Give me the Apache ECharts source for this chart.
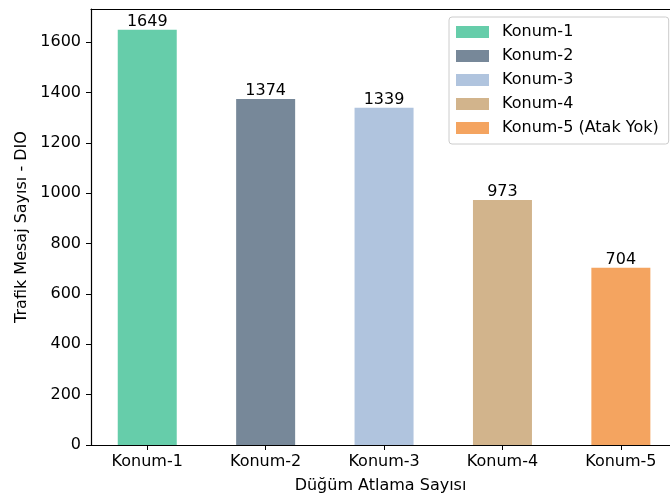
<!DOCTYPE html>
<html><head><meta charset="utf-8">
<script src="https://cdn.jsdelivr.net/npm/echarts@6/dist/echarts.min.js"></script>
<style>html,body{margin:0;padding:0;background:#fff}#c{width:670px;height:500px}</style>
</head><body><div id="c"></div>
<script>
const categories = ['Konum-1','Konum-2','Konum-3','Konum-4','Konum-5'];
const seriesNames = ['Konum-1','Konum-2','Konum-3','Konum-4','Konum-5 (Atak Yok)'];
const values = [1649, 1374, 1339, 973, 704];
const colors = ['#66cdaa','#778899','#b0c4de','#d2b48c','#f4a460'];
const yTicks = [0,200,400,600,800,1000,1200,1400,1600];

const FONT = 'DejaVu Sans';
const FS = 16;
const chart = echarts.init(document.getElementById('c'), null, {renderer:'canvas'});
const series = values.map((v,i)=>({
  name: seriesNames[i], type:'bar', data:[[i,v]], barWidth: 59, barGap:'-100%',
  itemStyle:{color:colors[i]},
  label:{show:true, position:'top', distance:0, color:'#000', fontFamily:FONT, fontSize:FS,
    formatter: p=>String(p.value[1])},
  emphasis:{disabled:true}
}));
chart.setOption({
  animation:false,
  grid:{left:91, right:0, top:9, bottom:55, show:false, containLabel:false},
  xAxis:[{type:'value', min:-0.475, max:4.415, splitLine:{show:false},
    axisLine:{show:true, onZero:false, lineStyle:{color:'#000', width:1.2}},
    axisTick:{show:true, length:5, customValues:[0,1,2,3,4], lineStyle:{color:'#000'}},
    axisLabel:{customValues:[0,1,2,3,4], margin:9, color:'#000', fontFamily:FONT, fontSize:FS,
      formatter:v=>categories[Math.round(v)]},
    name:'Düğüm Atlama Sayısı', nameLocation:'middle', nameGap:33,
    nameTextStyle:{color:'#000', fontFamily:FONT, fontSize:FS}},
   {type:'value', position:'top', min:-0.475, max:4.415, splitLine:{show:false},
    axisLine:{show:true, onZero:false, lineStyle:{color:'#000', width:1.2}},
    axisTick:{show:false}, axisLabel:{show:false}}],
  yAxis:{type:'value', min:0, max:1731.45, interval:200, splitLine:{show:false},
    axisLine:{show:true, onZero:false, lineStyle:{color:'#000', width:1.2}},
    axisTick:{show:true, length:5, customValues:yTicks, lineStyle:{color:'#000'}},
    axisLabel:{customValues:yTicks, margin:10, color:'#000', fontFamily:FONT, fontSize:FS,
      formatter:v=>String(v)},
    name:'Trafik Mesaj Sayısı - DIO', nameLocation:'middle', nameGap:60, nameRotate:90,
    nameTextStyle:{color:'#000', fontFamily:FONT, fontSize:FS}},
  legend:{orient:'vertical', left:449, top:17, itemWidth:33, itemHeight:12, itemGap:8, icon:'rect',
    padding:[7,10,8,7], borderColor:'#cccccc', borderWidth:1, borderRadius:3, backgroundColor:'rgba(255,255,255,0.8)',
    textStyle:{color:'#000', fontFamily:FONT, fontSize:FS, padding:[0,0,0,8], lineHeight:16},
    itemStyle:{borderWidth:0}, selectedMode:false, data:seriesNames},
  series: series
});
</script></body></html>
